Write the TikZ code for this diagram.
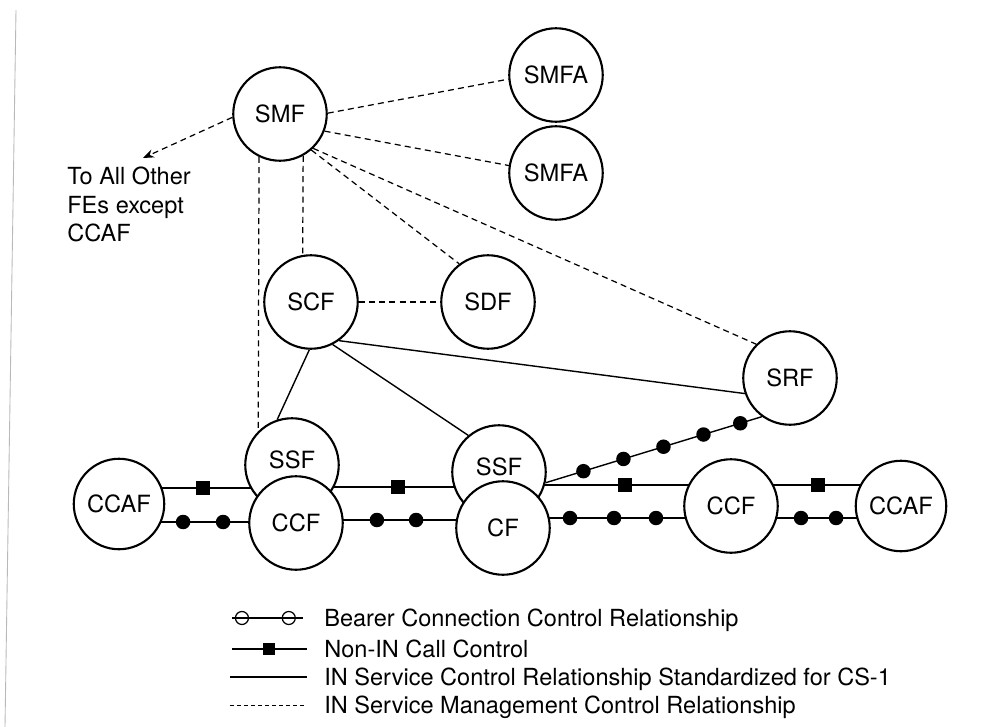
\documentclass[tikz,border=0pt]{standalone}
\usepackage{fontspec}
\setmainfont{TeX Gyre Heros}
\usetikzlibrary{arrows.meta}
\pgfdeclarelayer{bg}
\pgfsetlayers{bg,main}
\begin{document}
\begin{tikzpicture}[x=0.02cm,y=-0.02cm,
  fe/.style={circle,draw,line width=1.2pt,fill=white,inner sep=0pt,minimum size=1.87cm,font=\fontsize{13.5}{15}\selectfont},
  ccafsize/.style={minimum size=1.81cm},
  upper/.style={label={[font=\fontsize{13.5}{15}\selectfont,yshift=0.11cm]center:#1}},
  mgmt/.style={line width=0.7pt,dash pattern=on 3.4pt off 2.4pt},
  ctrl/.style={line width=0.8pt},
  callc/.style={line width=0.8pt},
  bearer/.style={line width=0.8pt},
  sq/.style={rectangle,fill=black,inner sep=0pt,minimum size=0.28cm},
  dotm/.style={circle,fill=black,inner sep=0pt,minimum size=0.29cm},
  opendot/.style={circle,draw,line width=0.7pt,inner sep=0pt,minimum size=0.26cm},
  lsq/.style={rectangle,fill=black,inner sep=0pt,minimum size=0.24cm},
  txt/.style={font=\fontsize{13.4}{16}\selectfont,inner sep=0pt},
]
\useasboundingbox (0,0) rectangle (985,727);
\draw[gray!55,line width=0.5pt] (16,10) -- (5,727);

% functional entities
\node[fe] (smf) at (280,114) {SMF};
\node[fe] (smfa1) at (556,75) {SMFA};
\node[fe] (smfa2) at (556,173) {SMFA};
\node[fe] (scf) at (311,302) {SCF};
\node[fe] (sdf) at (488,302) {SDF};
\node[fe] (srf) at (790,378) {SRF};
\node[fe,ccafsize] (ccafL) at (119,504) {CCAF};
\node[fe,upper=SSF] (ssfL) at (292,465) {};
\node[fe] (ccfL) at (296,523) {CCF};
\node[fe,upper=SSF] (ssfR) at (499,472) {};
\node[fe] (cf) at (503,528) {CF};
\node[fe] (ccfR) at (731,506) {CCF};
\node[fe,ccafsize] (ccafR) at (901,506) {CCAF};

\coordinate (tip) at (143,158);
\node[txt,anchor=north west,align=left] (note) at (67,167) {To All Other\\FEs except\\CCAF};

% level coordinates
\coordinate (hA) at (0,488);
\coordinate (hB) at (0,487);
\coordinate (hC) at (0,485);
\coordinate (hD) at (0,522);
\coordinate (hE) at (0,520);
\coordinate (hF) at (0,518);

\begin{pgfonlayer}{bg}
% management (dashed)
\draw[mgmt] (smf.1) -- (smfa1.185);
\draw[mgmt] (smf.-21) -- (smfa2.171);
\draw[mgmt] (smf.-49) -- (sdf.127);
\draw[mgmt] (smf.-46) -- (srf.135);
\draw[mgmt] (smf.244) -- (ssfL.135);
\draw[mgmt] (smf.299) -- (scf.100);
\draw[mgmt] (scf) -- (sdf);
\draw[mgmt,-{Stealth[length=0.22cm,width=0.17cm]}] (smf.184) -- (tip);
% IN service control (solid)
\draw[ctrl] (scf.-54) -- (srf.199);
\draw[ctrl] (scf.-63) -- (ssfR.130);
\draw[ctrl] (scf.-92) -- (ssfL.108);
% non-IN call control (squares)
\draw[callc] (ccafL |- hA) -- node[sq,pos=0.486]{} (ssfL |- hA);
\draw[callc] (ssfL |- hB) -- node[sq,pos=0.510]{} (ssfR |- hB);
\draw[callc] (ssfR |- hC) -- node[sq,pos=0.541]{} (ccfR |- hC);
\draw[callc] (ccfR |- hC) -- node[sq,pos=0.512]{} (ccafR |- hC);
% bearer connection control (dots)
\draw[bearer] (ccafL |- hD) -- node[dotm,pos=0.362]{} node[dotm,pos=0.588]{} (ccfL |- hD);
\draw[bearer] (ccfL |- hE) -- node[dotm,pos=0.391]{} node[dotm,pos=0.580]{} (cf |- hE);
\draw[bearer] (cf |- hF) -- node[dotm,pos=0.294]{} node[dotm,pos=0.487]{} node[dotm,pos=0.671]{} (ccfR |- hF);
\draw[bearer] (ccfR |- hF) -- node[dotm,pos=0.412]{} node[dotm,pos=0.618]{} (ccafR |- hF);
\draw[bearer] (ssfR.-13) -- node[dotm,pos=0.175]{} node[dotm,pos=0.36]{} node[dotm,pos=0.545]{} node[dotm,pos=0.73]{} node[dotm,pos=0.9]{} (srf.234);
\end{pgfonlayer}

% legend
\coordinate (l1a) at (232,618); \coordinate (l1b) at (303,618);
\coordinate (l2a) at (232,649); \coordinate (l2b) at (307,649);
\coordinate (l3a) at (230,677); \coordinate (l3b) at (307,677);
\coordinate (l4a) at (230,705); \coordinate (l4b) at (307,705);
\draw[line width=0.7pt] (l1a) -- node[opendot,pos=0.14]{} node[opendot,pos=0.80]{} (l1b);
\draw[line width=0.7pt] (l2a) -- node[lsq,pos=0.49]{} (l2b);
\draw[line width=0.7pt] (l3a) -- (l3b);
\draw[line width=0.55pt,dash pattern=on 2pt off 2pt] (l4a) -- (l4b);
\node[txt,anchor=base west] (t1) at (324,626) {Bearer Connection Control Relationship};
\node[txt,anchor=base west] (t2) at (324,657) {Non-IN Call Control};
\node[txt,anchor=base west] (t3) at (324,685) {IN Service Control Relationship Standardized for CS-1};
\node[txt,anchor=base west] (t4) at (324,713) {IN Service Management Control Relationship};
\end{tikzpicture}
\end{document}
